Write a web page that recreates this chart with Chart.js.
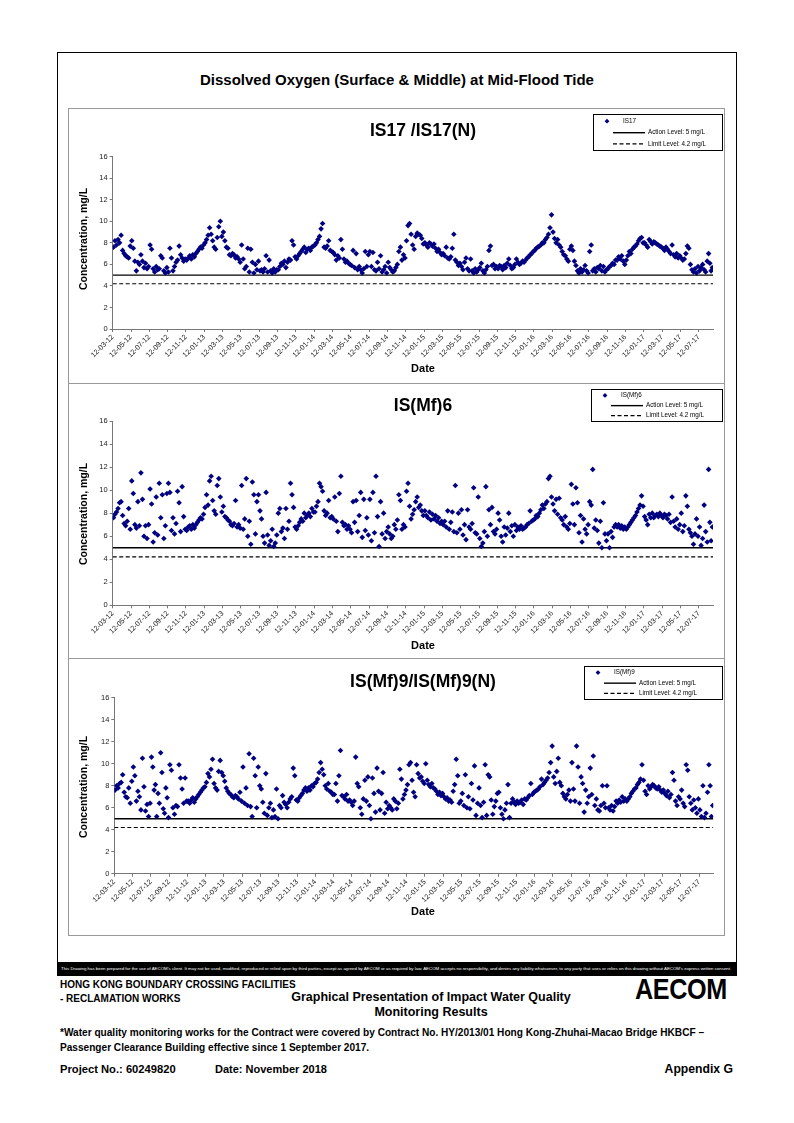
<!DOCTYPE html>
<html>
<head>
<meta charset="utf-8">
<title>Dissolved Oxygen (Surface & Middle) at Mid-Flood Tide</title>
<script src="https://cdn.jsdelivr.net/npm/chart.js@4.4.0/dist/chart.umd.min.js"></script>
<style>
  body { margin: 0; background: #fff; font-family: Arial, "Liberation Sans", sans-serif; color: #000; }
  #page { position: relative; width: 794px; height: 1123px; overflow: hidden; }
  .abs { position: absolute; white-space: nowrap; }
  #frame { position: absolute; left: 57px; top: 52px; width: 678px; height: 922px; border: 1px solid #000; }
  #main-title { left: 57px; width: 680px; top: 70px; text-align: center; font-weight: bold; font-size: 15px; line-height: 19px; }
  .panel { position: absolute; left: 68px; width: 655px; border: 1px solid #9a9a9a; box-sizing: content-box; }
  .panel canvas { position: absolute; left: 0; top: 0; }
  #bar { position: absolute; left: 58px; top: 962px; width: 678px; height: 13px; background: #000; overflow: hidden; }
  #disclaimer { position: absolute; left: 3px; top: 4px; color: #fff; font-size: 4.4px; line-height: 5px; white-space: nowrap; transform-origin: 0 0; }
  .b { font-weight: bold; }
</style>
</head>
<body>
<div id="page">
  <div id="frame"></div>
  <div id="main-title" class="abs">Dissolved Oxygen (Surface &amp; Middle) at Mid-Flood Tide</div>

  <div class="panel" id="box1" style="top:108px;height:274px"><canvas id="chart-is17" width="656" height="275"></canvas></div>
  <div class="panel" id="box2" style="top:383px;height:274px"><canvas id="chart-ismf6" width="656" height="275"></canvas></div>
  <div class="panel" id="box3" style="top:658px;height:276px"><canvas id="chart-ismf9" width="656" height="277"></canvas></div>

  <div id="bar"><span id="disclaimer">This Drawing has been prepared for the use of AECOM's client. It may not be used, modified, reproduced or relied upon by third parties, except as agreed by AECOM or as required by law. AECOM accepts no responsibility, and denies any liability whatsoever, to any party that uses or relies on this drawing without AECOM's express written consent.</span></div>

  <div class="abs b" style="left:60px;top:979px;font-size:10px;line-height:12px">HONG KONG BOUNDARY CROSSING FACILITIES</div>
  <div class="abs b" style="left:60px;top:993px;font-size:10px;line-height:12px">- RECLAMATION WORKS</div>
  <div class="abs b" style="left:231px;width:400px;top:990px;text-align:center;font-size:12.5px;line-height:15px">Graphical Presentation of Impact Water Quality</div>
  <div class="abs b" style="left:231px;width:400px;top:1005px;text-align:center;font-size:12.5px;line-height:15px">Monitoring Results</div>
  <div class="abs" style="left:635px;top:974px;font-size:30px;line-height:30px;font-weight:900;transform:scaleX(0.84);transform-origin:0 0;letter-spacing:-0.5px">AECOM</div>
  <div class="abs b" style="left:60px;top:1027px;font-size:10.1px;line-height:12px">*Water quality monitoring works for the Contract were covered by Contract No. HY/2013/01 Hong Kong-Zhuhai-Macao Bridge HKBCF –</div>
  <div class="abs b" style="left:60px;top:1042px;font-size:10.1px;line-height:12px">Passenger Clearance Building effective since 1 September 2017.</div>
  <div class="abs b" style="left:60px;top:1063px;font-size:11.2px;line-height:13px">Project No.: 60249820</div>
  <div class="abs b" style="left:215px;top:1063px;font-size:11px;line-height:13px">Date: November 2018</div>
  <div class="abs b" style="right:61px;top:1063px;font-size:12.2px;line-height:13px">Appendix G</div>
</div>

<script>
/* ── Data: DO readings (mg/L), one inner list per month block starting on the 12th ── */

const TICK_LABELS = [
  '12-03-12', '12-05-12', '12-07-12', '12-09-12', '12-11-12',
  '12-01-13', '12-03-13', '12-05-13', '12-07-13', '12-09-13', '12-11-13',
  '12-01-14', '12-03-14', '12-05-14', '12-07-14', '12-09-14', '12-11-14',
  '12-01-15', '12-03-15', '12-05-15', '12-07-15', '12-09-15', '12-11-15',
  '12-01-16', '12-03-16', '12-05-16', '12-07-16', '12-09-16', '12-11-16',
  '12-01-17', '12-03-17', '12-05-17', '12-07-17',
];

const ACTION_LEVEL = 5;
const LIMIT_LEVEL = 4.2;
const X_MAX = 65.55;   /* months after 12-03-12 at the end of the axis */

const IS17_DO = [
  [7.6, 8.2, 7.8, 8.3, 8.0, 8.7], [7.3, 7.0, 6.8, 6.7, 6.6, 7.7], [8.2, 7.5, 6.3, 5.4, 6.2, 6.0],
  [6.9, 6.3, 5.7, 6.1, 5.6, 5.8], [7.8, 7.4, 5.6, 5.3, 5.8, 5.5], [5.6, 6.8, 6.6, 5.4, 5.2, 5.7],
  [5.3, 7.5, 6.6, 5.4, 5.8, 6.2], [6.4, 7.7, 6.9, 6.6, 6.3, 6.5], [6.4, 6.6, 6.8, 6.5, 6.9, 6.7],
  [7.0, 7.2, 7.4, 7.6, 7.5, 7.8], [8.0, 8.3, 8.7, 9.4, 8.8, 8.2], [7.6, 7.4, 8.5, 9.5, 10.0, 8.6],
  [9.0, 8.2, 7.6, 7.5, 6.9, 6.8], [7.0, 6.9, 6.6, 6.7, 6.5, 6.2], [7.8, 6.5, 5.6, 5.8, 7.5, 5.3],
  [7.4, 6.2, 5.2, 6.0, 5.5, 6.3], [5.4, 5.5, 5.3, 5.6, 6.8, 5.3], [6.4, 5.4, 5.2, 5.6, 5.3, 5.5],
  [5.5, 5.8, 6.1, 6.0, 6.3, 5.7], [6.2, 6.5, 6.4, 8.2, 7.8, 6.7], [6.5, 6.8, 7.0, 7.2, 7.4, 7.6],
  [7.1, 7.4, 7.5, 7.3, 7.6, 7.7], [7.8, 8.0, 8.3, 8.6, 9.3, 9.8], [7.6, 7.5, 7.7, 8.2, 7.3, 7.2],
  [7.1, 6.9, 6.4, 6.8, 6.6, 8.3], [7.4, 6.5, 6.2, 6.3, 6.1, 6.0], [5.9, 7.3, 5.7, 7.0, 5.5, 5.8],
  [5.5, 5.2, 5.6, 7.2, 5.8, 6.9], [7.2, 5.8, 7.1, 5.5, 5.4, 6.2], [5.6, 6.8, 5.3, 5.5, 5.8, 5.2],
  [6.2, 5.7, 5.5, 5.3, 5.4, 5.7], [6.0, 7.2, 7.6, 6.4, 6.9, 6.6], [8.2, 9.6, 9.8, 8.8, 7.8, 7.4],
  [8.6, 8.9, 8.8, 8.7, 8.4, 7.9], [8.0, 7.8, 7.6, 8.0, 7.9, 7.7], [7.9, 7.5, 7.2, 7.4, 7.1, 6.9],
  [7.0, 6.8, 7.6, 6.6, 6.5, 6.7], [7.5, 8.8, 6.4, 6.2, 5.9, 6.1], [5.8, 5.5, 6.2, 6.6, 5.6, 5.4],
  [6.5, 5.4, 5.2, 5.6, 5.3, 5.5], [5.7, 6.1, 5.4, 5.2, 5.5, 5.8], [7.3, 7.7, 5.9, 6.0, 5.6, 5.8],
  [5.6, 5.9, 5.8, 5.5, 5.9, 5.7], [6.1, 6.5, 5.9, 5.6, 5.7, 6.0], [6.5, 6.2, 6.0, 6.1, 6.3, 6.2],
  [6.4, 6.6, 6.7, 6.9, 7.0, 7.2], [7.3, 7.5, 7.6, 7.7, 7.8, 8.0], [8.0, 8.3, 8.5, 8.8, 9.4, 10.6],
  [9.0, 8.4, 8.0, 8.3, 7.8, 7.6], [7.2, 6.9, 6.8, 6.5, 6.3, 7.4], [7.7, 7.3, 6.3, 5.9, 5.4, 5.2],
  [5.6, 5.3, 5.5, 5.9, 5.4, 5.2], [7.2, 7.8, 5.4, 5.6, 5.3, 5.7], [5.6, 5.9, 5.4, 5.8, 5.3, 5.5],
  [5.6, 5.8, 5.9, 6.1, 6.0, 6.4], [6.4, 6.7, 6.5, 6.8, 6.3, 6.0], [6.4, 6.8, 7.2, 7.0, 7.4, 7.6],
  [7.7, 7.9, 8.2, 8.4, 8.5, 8.0], [8.0, 7.8, 7.6, 8.3, 8.1, 7.9], [8.1, 8.0, 7.9, 7.8, 7.7, 7.6],
  [7.5, 7.3, 7.6, 7.4, 7.2, 7.0], [7.8, 6.9, 6.7, 7.0, 6.6, 6.8], [6.6, 6.4, 6.5, 7.0, 7.7, 7.5],
  [6.0, 5.5, 5.3, 5.6, 5.2, 5.8], [5.4, 5.7, 6.0, 5.5, 5.3, 6.3], [7.0, 6.1, 5.4, 5.7],
];

const ISMF6_DO = [
  [7.6, 7.9, 8.1, 8.4, 8.9, 9.0], [7.8, 7.1, 6.9, 7.3, 8.4, 6.6], [10.8, 9.7, 7.0, 6.7, 9.0, 6.9],
  [11.5, 9.2, 6.0, 6.9, 5.8, 7.0], [10.1, 8.8, 5.5, 6.3, 9.4, 6.1], [10.6, 7.6, 9.6, 5.8, 6.9, 9.7],
  [10.6, 9.8, 6.5, 7.6, 6.2, 7.1], [9.9, 8.9, 6.4, 10.3, 7.7, 6.6], [6.5, 6.8, 6.9, 6.6, 7.0, 6.7],
  [7.0, 7.2, 7.4, 7.6, 7.5, 7.9], [8.5, 9.6, 8.7, 10.8, 11.2, 9.1], [8.2, 7.9, 10.4, 11.0, 9.4, 8.1],
  [8.6, 7.7, 7.6, 7.4, 7.3, 7.0], [6.9, 7.1, 9.1, 6.8, 7.0, 6.7], [10.4, 6.6, 7.5, 11.0, 6.0, 7.3],
  [5.3, 10.7, 9.6, 6.2, 9.0, 9.6], [8.2, 7.5, 6.0, 5.4, 9.8, 6.1], [5.2, 5.6, 6.6, 5.1, 5.4, 6.1],
  [8.0, 8.4, 6.4, 6.7, 5.8, 8.4], [6.6, 7.3, 10.6, 9.6, 8.5, 6.8], [6.6, 6.9, 7.2, 7.5, 7.3, 8.0],
  [7.6, 7.8, 8.0, 7.7, 8.4, 8.1], [8.1, 8.6, 9.0, 10.6, 10.3, 9.9], [8.2, 7.8, 8.0, 9.1, 7.6, 7.7],
  [7.5, 9.4, 7.3, 6.4, 9.7, 11.2], [7.2, 6.9, 7.0, 6.6, 6.9, 6.6], [6.3, 9.0, 7.2, 9.1, 6.4, 7.8],
  [9.8, 5.9, 9.2, 6.5, 7.6, 6.1], [9.2, 5.6, 9.8, 6.3, 11.2, 7.7], [5.1, 9.0, 6.2, 8.0, 5.8, 6.4],
  [6.8, 6.2, 5.8, 6.0, 7.0, 6.6], [7.4, 9.6, 9.1, 6.6, 7.0, 6.8], [9.9, 10.6, 8.6, 7.5, 7.9, 8.3],
  [9.0, 9.4, 8.5, 8.7, 8.2, 7.8], [8.2, 7.8, 7.6, 8.1, 7.4, 7.9], [7.5, 7.8, 7.3, 7.6, 7.1, 7.3],
  [7.0, 7.3, 6.8, 8.2, 6.6, 7.2], [8.1, 6.4, 10.4, 6.3, 8.0, 6.6], [8.3, 6.1, 7.0, 5.7, 8.3, 6.8],
  [6.6, 7.1, 10.2, 6.3, 6.2, 9.4], [5.8, 5.1, 5.4, 6.4, 10.3, 6.0], [8.3, 7.0, 8.5, 6.4, 6.2, 6.6],
  [8.0, 7.4, 6.0, 5.5, 6.8, 6.1], [6.7, 8.0, 6.4, 6.9, 6.0, 7.0], [6.5, 6.8, 6.6, 6.9, 6.6, 6.7],
  [6.8, 7.0, 7.1, 8.2, 7.3, 7.4], [7.5, 7.8, 7.7, 8.0, 8.3, 8.7], [8.4, 8.8, 9.0, 11.0, 11.2, 9.4],
  [8.8, 8.2, 9.2, 7.9, 9.3, 7.6], [7.4, 7.0, 7.7, 6.8, 6.6, 7.1], [10.5, 8.8, 7.0, 10.2, 8.9, 6.3],
  [7.8, 5.5, 7.5, 6.6, 6.2, 7.0], [9.0, 8.7, 11.8, 6.7, 7.4, 6.5], [5.4, 7.3, 5.0, 8.9, 6.2, 5.6],
  [6.2, 5.0, 6.4, 5.9, 6.8, 7.0], [6.8, 7.0, 6.7, 6.9, 6.6, 6.8], [6.6, 6.8, 7.0, 7.2, 7.4, 7.6],
  [7.8, 8.1, 8.4, 8.7, 9.5, 8.6], [7.7, 7.4, 7.0, 7.9, 7.6, 8.0], [7.6, 7.8, 7.9, 7.7, 8.0, 7.8],
  [7.6, 7.9, 7.8, 7.5, 7.9, 7.2], [9.4, 7.3, 6.8, 7.5, 6.6, 7.0], [8.0, 6.4, 6.9, 9.5, 8.6, 6.6],
  [6.3, 6.0, 5.3, 6.2, 7.5, 6.0], [6.8, 5.2, 5.8, 8.7, 6.4, 5.5], [11.8, 7.2, 5.6, 6.8],
];

const ISMF9_DO = [
  [7.6, 8.0, 7.8, 8.2, 8.3, 9.0], [7.4, 7.0, 6.9, 7.8, 6.4, 8.4], [9.7, 8.9, 6.6, 7.5, 7.0, 5.8],
  [10.5, 7.9, 5.7, 6.3, 5.2, 6.4], [10.6, 9.7, 7.6, 8.1, 5.2, 7.3, 6.4], [11.0, 9.2, 5.9, 5.5, 7.8, 6.9, 5.1],
  [9.9, 9.4, 6.0, 5.4, 6.2, 6.1], [9.9, 8.7, 7.7, 6.4, 8.7, 6.6], [6.6, 6.4, 6.7, 6.9, 6.5, 6.8],
  [7.0, 7.2, 7.4, 7.6, 7.8, 7.9], [8.3, 9.1, 8.8, 9.5, 10.4, 8.2], [7.8, 7.6, 9.3, 10.3, 9.2, 8.9],
  [8.4, 7.8, 7.5, 7.3, 7.2, 7.0], [6.9, 7.1, 7.0, 6.8, 7.4, 6.6], [9.7, 6.4, 7.8, 6.2, 10.9, 6.1],
  [5.2, 10.5, 8.9, 6.0, 9.7, 8.0], [7.7, 6.5, 5.5, 9.1, 5.3, 6.0], [6.4, 5.1, 5.8, 5.2, 7.7, 5.0],
  [6.2, 6.0, 7.1, 6.5, 6.3, 6.0], [6.5, 6.8, 7.0, 9.6, 8.9, 6.7], [6.6, 6.9, 7.1, 7.3, 7.6, 7.8],
  [7.5, 7.8, 7.6, 8.0, 7.9, 8.2], [8.3, 8.6, 9.2, 10.1, 9.5, 9.0], [8.0, 7.7, 8.2, 7.5, 7.4, 7.2],
  [7.2, 8.2, 6.6, 8.9, 11.2, 7.1], [7.0, 6.8, 7.2, 6.6, 6.7, 6.5], [6.2, 6.6, 10.6, 8.2, 7.9, 6.0],
  [5.4, 6.8, 8.5, 6.6, 8.8, 6.2], [5.0, 8.7, 7.3, 5.6, 9.6, 7.5], [5.8, 7.3, 9.2, 5.5, 6.5, 5.9],
  [6.2, 6.0, 5.8, 6.8, 6.6, 5.9], [6.4, 9.5, 8.6, 6.8, 7.2, 7.6], [8.1, 9.9, 10.1, 8.5, 7.4, 7.0],
  [9.9, 9.1, 8.7, 8.8, 8.4, 8.2], [10.0, 8.5, 8.1, 7.9, 8.2, 7.8], [7.7, 7.5, 7.2, 7.4, 7.1, 7.3],
  [7.0, 6.8, 6.9, 6.6, 6.7, 6.5], [7.5, 8.1, 10.4, 8.9, 6.4, 6.6], [7.3, 6.2, 9.0, 6.0, 7.0, 5.9],
  [8.2, 6.7, 9.8, 5.3, 6.4, 7.8], [6.2, 5.1, 6.5, 9.9, 5.3, 9.0], [8.8, 6.7, 5.4, 6.1, 6.6, 7.3],
  [7.4, 6.0, 5.4, 5.0, 5.8, 6.4], [8.1, 5.1, 6.4, 6.8, 6.5, 6.3], [6.6, 6.4, 6.5, 6.7, 6.3, 6.8],
  [6.7, 6.9, 7.1, 8.2, 7.2, 7.4], [7.5, 7.6, 7.7, 7.9, 8.6, 8.1], [8.3, 8.5, 8.7, 9.2, 10.1, 11.6],
  [8.8, 8.2, 9.3, 10.5, 8.3, 8.0], [7.3, 7.0, 6.8, 7.2, 7.6, 6.6], [10.1, 7.7, 6.6, 11.6, 9.7, 6.4],
  [8.8, 8.2, 5.6, 7.6, 6.4, 7.0], [9.6, 7.2, 10.7, 6.2, 6.8, 5.8], [5.7, 6.2, 8.0, 6.4, 6.0, 8.0],
  [6.0, 5.8, 6.2, 5.7, 6.1, 6.6], [6.4, 6.7, 6.5, 7.0, 6.6, 6.8], [6.6, 6.8, 7.0, 7.3, 7.5, 7.7],
  [7.8, 8.1, 8.3, 8.6, 9.9, 8.5], [7.5, 7.2, 8.0, 7.7, 7.9, 8.1], [8.0, 7.8, 7.7, 7.9, 7.6, 7.4],
  [7.6, 7.3, 7.1, 7.5, 6.9, 7.2], [9.2, 8.5, 6.6, 6.2, 7.0, 6.8], [7.6, 6.4, 6.1, 9.9, 9.4, 7.0],
  [6.4, 5.8, 6.7, 6.0, 5.5, 6.8], [5.8, 5.2, 8.0, 5.1, 5.5, 7.4], [9.9, 8.0, 5.2, 6.2],
];

/* ── Panel layout (canvas-relative px) ───────────────────────── */
const PANELS = [
  { canvas: 'chart-is17',  title: 'IS17 /IS17(N)',      label: 'IS17',    values: IS17_DO,
    plotTop: 47.7, xAxisH: 55,   yAxisW: 43.7, padRight: 12,
    titleY: 22, dateY: 260, yTitleY: 130, legend: { x: 524, y: 5, w: 129, h: 36 } },
  { canvas: 'chart-ismf6', title: 'IS(Mf)6',            label: 'IS(Mf)6', values: ISMF6_DO,
    plotTop: 37,   xAxisH: 53.7, yAxisW: 43.7, padRight: 12,
    titleY: 22, dateY: 262, yTitleY: 130, legend: { x: 522, y: 5, w: 131, h: 32 } },
  { canvas: 'chart-ismf9', title: 'IS(Mf)9/IS(Mf)9(N)', label: 'IS(Mf)9', values: ISMF9_DO,
    plotTop: 38.7, xAxisH: 62.3, yAxisW: 45.3, padRight: 11.7,
    titleY: 23, dateY: 253, yTitleY: 128, legend: { x: 515, y: 7, w: 138, h: 33 } },
];

const NAVY = '#000080';
const FONT = 'Arial, "Liberation Sans", sans-serif';

Chart.defaults.font.family = FONT;
Chart.defaults.color = '#222';

/* spread each month's readings across its block on the axis */
function toPoints(blocks) {
  const pts = [];
  blocks.forEach((vals, k) => {
    const span = Math.min(1, X_MAX - k);
    vals.forEach((v, i) => pts.push({ x: k + (i + 0.5) / vals.length * span, y: v }));
  });
  return pts;
}

/* ── Titles + framed legend ──────────────────────────────────── */
const decor = {
  id: 'decor',
  afterDraw(chart, args, o) {
    const c = chart.ctx;
    c.save();
    c.fillStyle = '#000';
    c.textAlign = 'center';
    c.textBaseline = 'middle';
    c.font = `bold 17.5px ${FONT}`;
    c.fillText(o.title, 354, o.titleY);
    c.font = `bold 11px ${FONT}`;
    c.fillText('Date', 354, o.dateY);
    c.save();
    c.translate(15, o.yTitleY);
    c.rotate(-Math.PI / 2);
    c.font = `bold 10.5px ${FONT}`;
    c.fillText('Concentration, mg/L', 0, 0);
    c.restore();

    const L = o.legend;
    c.fillStyle = '#fff';
    c.fillRect(L.x, L.y, L.w, L.h);
    c.strokeStyle = '#000';
    c.lineWidth = 1;
    c.strokeRect(L.x + 0.5, L.y + 0.5, L.w, L.h);
    const ds = chart.data.datasets;
    const rows = [L.y + L.h * 0.2, L.y + L.h * 0.52, L.y + L.h * 0.83];
    c.font = `6.3px ${FONT}`;
    c.textAlign = 'left';
    c.fillStyle = NAVY;
    Chart.helpers.drawPoint(c, { pointStyle: 'rectRot', radius: 2.4, borderWidth: 0 }, L.x + 14, rows[0]);
    c.fillStyle = '#000';
    c.fillText(ds[0].label, L.x + 30, rows[0]);
    [1, 2].forEach(j => {
      c.beginPath();
      c.setLineDash(ds[j].borderDash || []);
      c.lineWidth = ds[j].borderWidth;
      c.moveTo(L.x + 20, rows[j]);
      c.lineTo(L.x + 52, rows[j]);
      c.stroke();
      c.setLineDash([]);
      c.fillText(ds[j].label, L.x + 55, rows[j]);
    });
    c.restore();
  },
};

function renderPanel(p) {
  const ctx = document.getElementById(p.canvas).getContext('2d');
  new Chart(ctx, {
    type: 'scatter',
    data: {
      datasets: [
        { label: p.label, data: toPoints(p.values), pointStyle: 'rectRot', pointRadius: 2.8,
          backgroundColor: NAVY, borderColor: NAVY, borderWidth: 0 },
        { label: 'Action Level: 5 mg/L', data: [{ x: 0, y: ACTION_LEVEL }, { x: X_MAX, y: ACTION_LEVEL }],
          showLine: true, pointRadius: 0, borderColor: '#000', borderWidth: 1.4 },
        { label: 'Limit Level: 4.2 mg/L', data: [{ x: 0, y: LIMIT_LEVEL }, { x: X_MAX, y: LIMIT_LEVEL }],
          showLine: true, pointRadius: 0, borderColor: '#000', borderWidth: 1.2, borderDash: [4, 2.5] },
      ],
    },
    options: {
      responsive: false,
      animation: false,
      events: [],
      layout: { padding: { left: 0, right: p.padRight, top: p.plotTop, bottom: 0 } },
      plugins: {
        legend: { display: false },
        tooltip: { enabled: false },
        decor: { title: p.title, titleY: p.titleY, dateY: p.dateY, yTitleY: p.yTitleY, legend: p.legend },
      },
      scales: {
        x: {
          type: 'linear', min: 0, max: X_MAX,
          afterBuildTicks: ax => { ax.ticks = TICK_LABELS.map((_, i) => ({ value: i * 2 })); },
          afterFit: ax => { ax.height = p.xAxisH; },
          ticks: { autoSkip: false, minRotation: 45, maxRotation: 45, padding: 1,
                   font: { size: 7.2 }, color: '#222', callback: v => TICK_LABELS[Math.round(v / 2)] },
          grid: { drawOnChartArea: false, tickLength: 3, color: '#777' },
          border: { color: '#777' },
        },
        y: {
          min: 0, max: 16,
          afterFit: ax => { ax.width = p.yAxisW; },
          ticks: { stepSize: 2, padding: 2, font: { size: 7.5 }, color: '#222' },
          grid: { drawOnChartArea: false, tickLength: 3, color: '#777' },
          border: { color: '#777' },
        },
      },
    },
    plugins: [decor],
  });
}

/* ── Boot ───────────────────────────────────────────────────── */
PANELS.forEach(renderPanel);

const disc = document.getElementById('disclaimer');
disc.style.transform = `scaleX(${670 / disc.scrollWidth})`;
</script>
</body>
</html>
